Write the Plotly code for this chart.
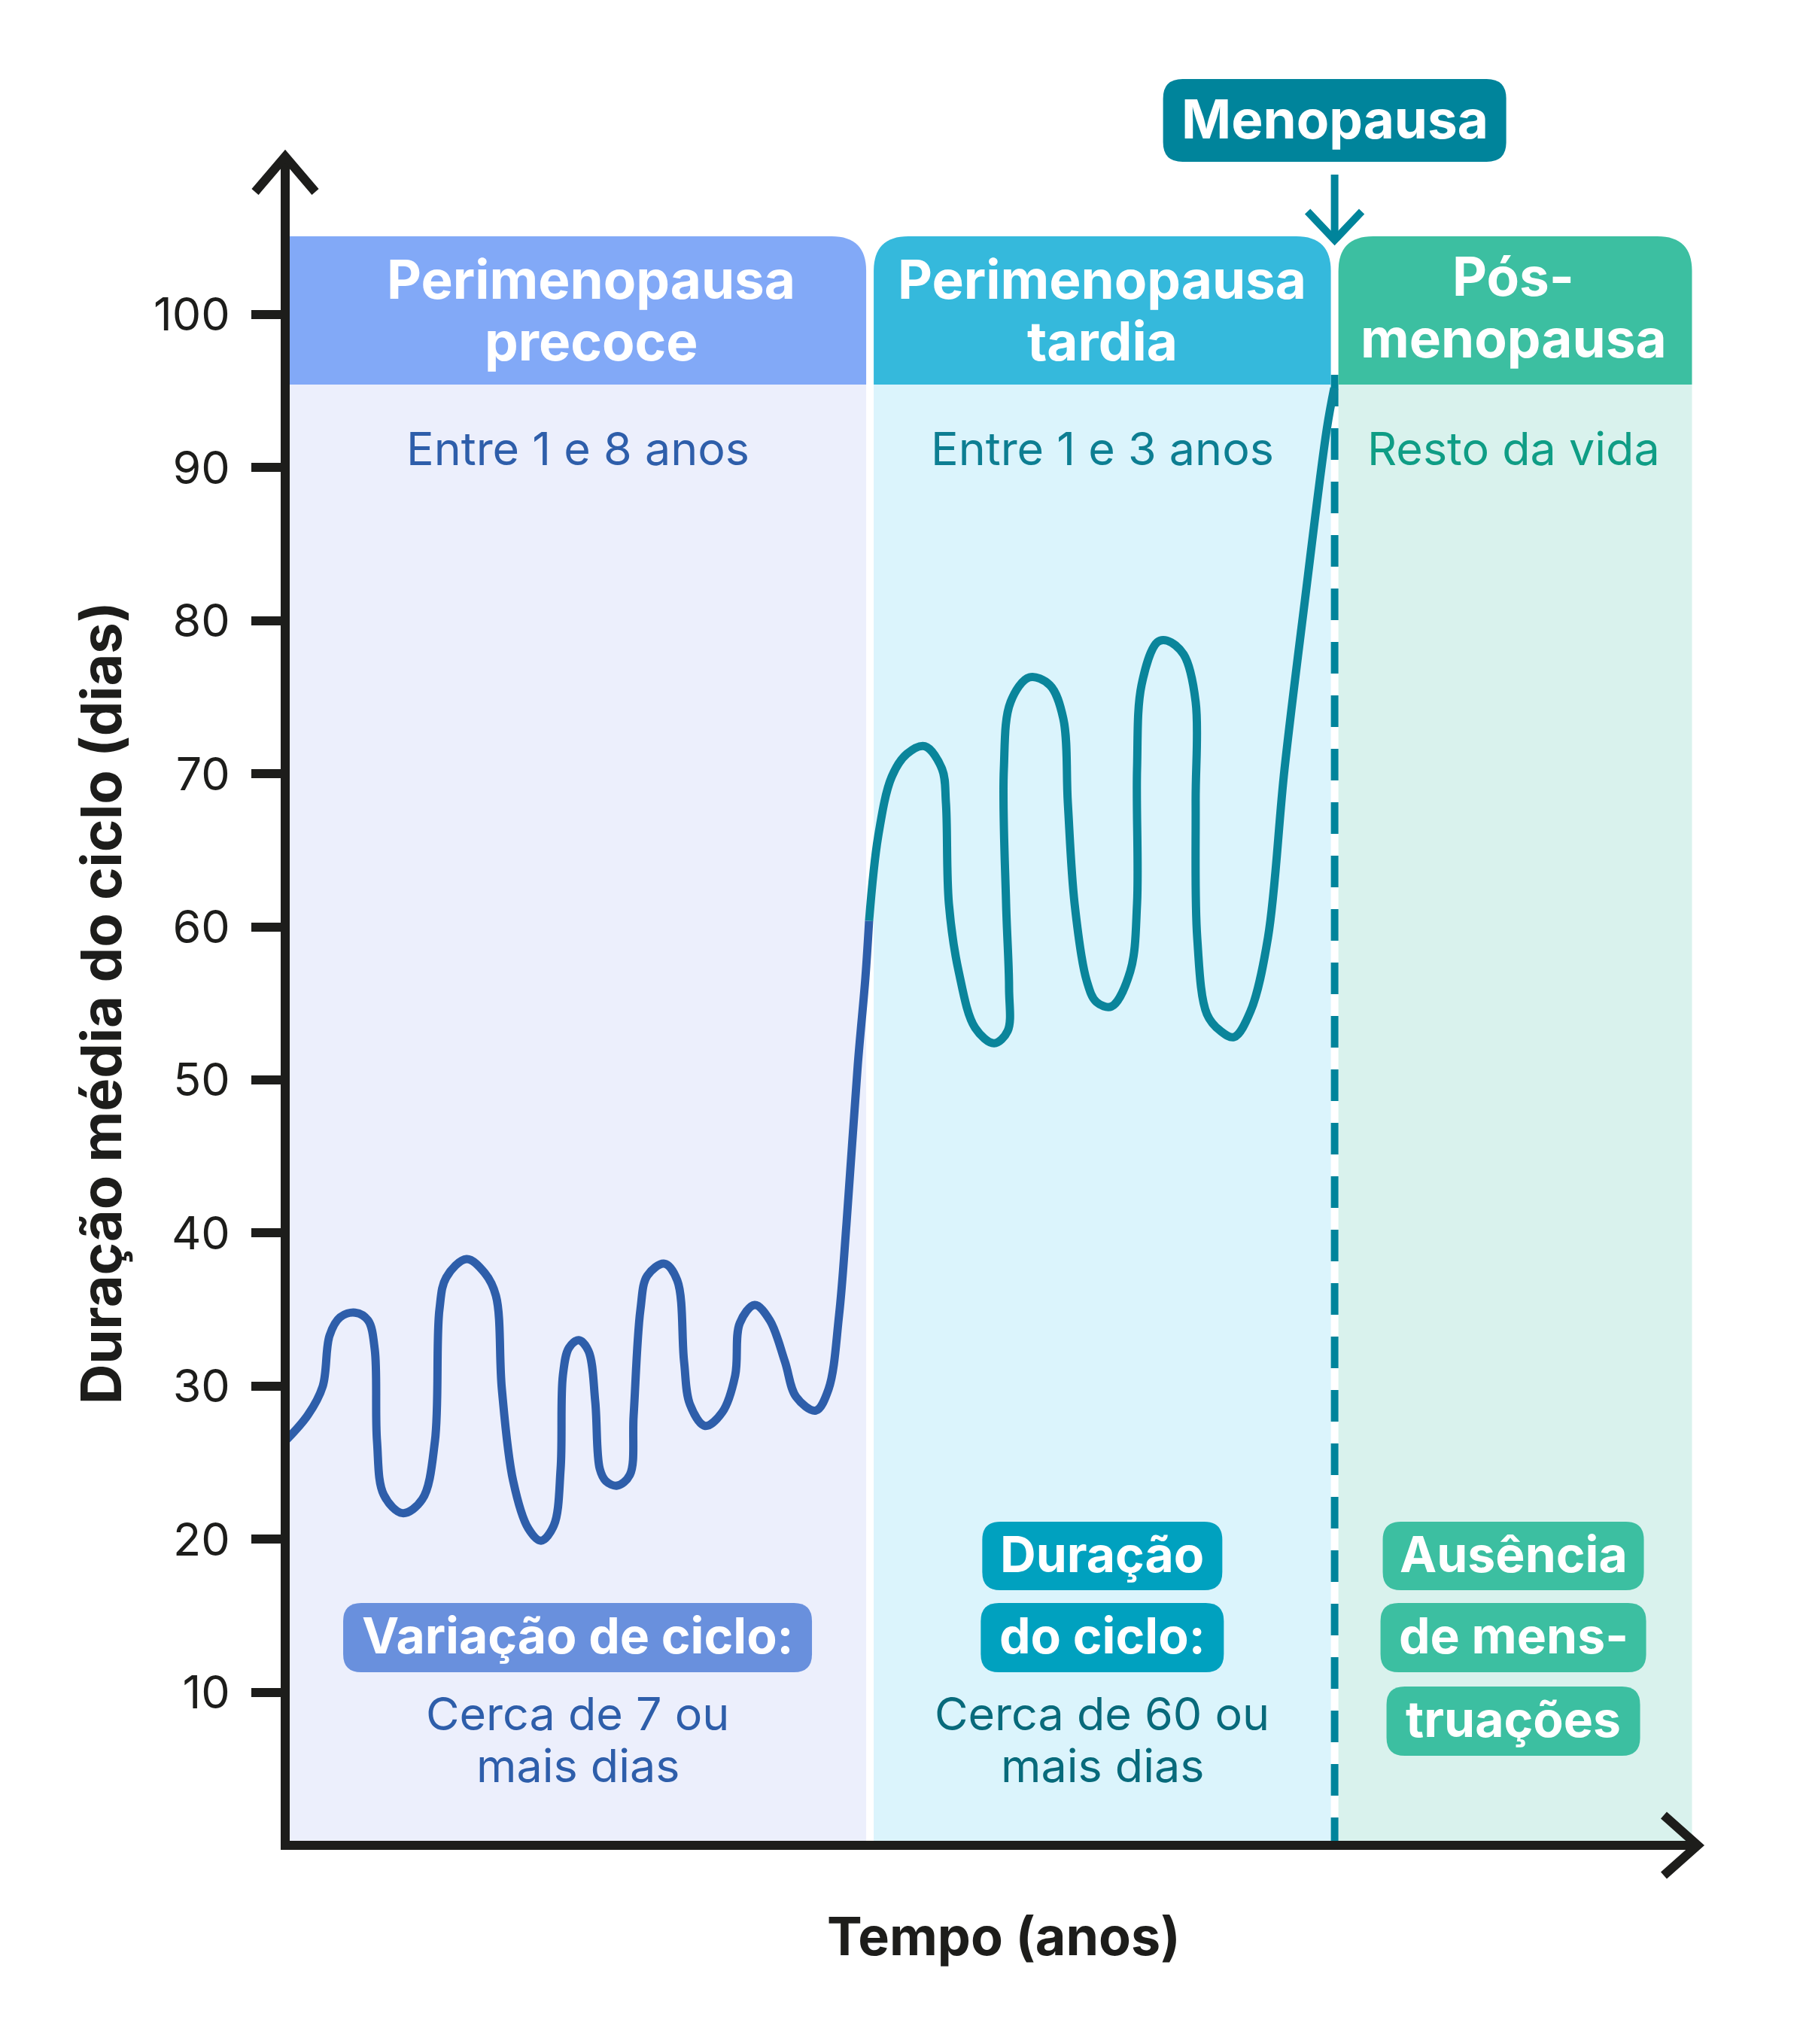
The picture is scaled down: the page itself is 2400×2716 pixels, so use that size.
import plotly.graph_objects as go

# ---- data -----------------------------------------------------------------
phase_names = ["Perimenopausa precoce", "Perimenopausa tardia", "Pós-menopausa"]
phase_bounds = [0.0, 41.4, 74.3, 99.6]      # tempo (unidades arbitrárias)
menopause_t = 74.3

head_lines = [["Perimenopausa", "precoce"], ["Perimenopausa", "tardia"], ["Pós-", "menopausa"]]
phase_durations = ["Entre 1 e 8 anos", "Entre 1 e 3 anos", "Resto da vida"]
box_lines = [["Variação de ciclo:"], ["Duração", "do ciclo:"], ["Ausência", "de mens-", "truações"]]
note_lines = [["Cerca de 7 ou", "mais dias"], ["Cerca de 60 ou", "mais dias"], []]

y_ticks = [10, 20, 30, 40, 50, 60, 70, 80, 90, 100]

# ciclo médio (dias) ao longo do tempo
early_t = [0.0, 1.60, 2.66, 3.14, 3.89, 4.95, 5.86, 6.34, 6.50, 6.98, 8.31, 9.70,
           10.60, 10.92, 11.40, 12.84, 14.12, 14.92, 15.34, 16.14, 17.21, 18.11,
           19.02, 19.50, 19.66, 20.09, 20.78, 21.47, 21.95, 22.27, 22.70, 23.50,
           24.40, 24.67, 25.15, 25.63, 26.85, 27.76, 28.24, 28.66, 29.73, 30.95,
           31.86, 32.18, 33.24, 34.31, 35.38, 36.17, 37.56, 38.47, 39.21, 39.74,
           40.54, 41.08, 41.34]
early_len = [26.4, 28.1, 30.0, 33.3, 34.5, 34.8, 34.3, 32.4, 26.4, 22.9, 21.7, 22.6,
             26.4, 35.0, 37.1, 38.3, 37.4, 35.9, 29.8, 23.8, 20.7, 19.9,
             20.9, 24.6, 30.7, 32.5, 33.0, 32.3, 29.0, 24.6, 23.8, 23.5,
             24.2, 28.1, 35.0, 37.2, 38.0, 36.9, 31.6, 28.8, 27.4, 28.3,
             30.7, 34.1, 35.3, 34.3, 31.6, 29.3, 28.4, 29.8, 34.6, 40.6,
             51.0, 56.7, 60.4]

late_t = [41.34, 41.98, 42.94, 44.01, 45.29, 46.51, 46.78, 46.99, 47.68, 48.85,
          50.19, 51.15, 51.25, 51.04, 50.88, 51.36, 52.69, 54.13, 55.09, 55.41,
          55.89, 56.74, 57.43, 58.50, 59.83, 60.31, 60.31, 60.63, 61.75, 62.44,
          63.61, 64.46, 64.46, 64.57, 65.26, 66.22, 67.18, 68.35, 69.58, 70.75,
          72.19, 73.74, 74.27]
late_len = [60.4, 65.9, 69.8, 71.3, 71.8, 70.3, 68.1, 61.5, 57.1, 53.4,
            52.4, 53.2, 56.0, 61.5, 70.3, 74.7, 76.3, 75.8, 73.6, 68.1,
            61.5, 56.5, 55.1, 54.8, 57.1, 61.5, 70.3, 75.8, 78.6, 78.7,
            77.8, 74.7, 68.1, 59.3, 54.3, 53.2, 52.8, 54.5, 59.3, 70.3,
            81.3, 92.5, 95.2]

# ---- geometry / style --------------------------------------------------------
W, H = 2400, 2716
X0_PX, Y0_PX = 379, 2452
PX_X, PX_Y = 18.77, 20.34

def dx(p): return p / PX_X
def dy(p): return p / PX_Y
def yv(py): return (Y0_PX - py) / PX_Y

FONT = "Inter"
INK = "#1d1d1b"
head_col = ["#82a9f7", "#35b9dc", "#3cbfa1"]
body_col = ["#eceffc", "#dbf4fc", "#d9f2ed"]
dur_col = ["#2e5eaa", "#0d7e92", "#0f9d85"]
box_col = ["#6990dd", "#00a1bf", "#3cbfa1"]
note_col = ["#2e5eaa", "#086a7b", "#086a7b"]
BLUE, TEAL, MENO = "#2e5eaa", "#0a859b", "#00849b"

HEAD_TOP, HEAD_BOT = yv(314), yv(511)
GAP = dx(5)
head_shift = [dx(18), 0, 0]


def rounded(x0, x1, y0, y1, r, corners=(True, True, True, True)):
    """corners: top-left, top-right, bottom-right, bottom-left"""
    rx, ry = dx(r), dy(r)
    tl, tr, br, bl = corners
    s = f"M{x0},{y0 + ry if bl else y0} "
    if tl:
        s += f"L{x0},{y1 - ry} Q{x0},{y1} {x0 + rx},{y1} "
    else:
        s += f"L{x0},{y1} "
    if tr:
        s += f"L{x1 - rx},{y1} Q{x1},{y1} {x1},{y1 - ry} "
    else:
        s += f"L{x1},{y1} "
    if br:
        s += f"L{x1},{y0 + ry} Q{x1},{y0} {x1 - rx},{y0} "
    else:
        s += f"L{x1},{y0} "
    if bl:
        s += f"L{x0 + rx},{y0} Q{x0},{y0} {x0},{y0 + ry} "
    else:
        s += f"L{x0},{y0} "
    return s + "Z"


shapes = []
annotations = []

def text(x, y, s, size, color, bold=False, angle=0):
    annotations.append(dict(x=x, y=y, text=s, showarrow=False, textangle=angle,
                            xanchor="center", yanchor="middle",
                            font=dict(family=FONT, size=size, color=color,
                                      weight=700 if bold else 400)))

# panels
for i in range(3):
    x0 = phase_bounds[i] + (GAP if i > 0 else 0)
    x1 = phase_bounds[i + 1] - (GAP if i < 2 else 0)
    shapes.append(dict(type="rect", x0=x0, x1=x1, y0=0, y1=HEAD_BOT, layer="below",
                       fillcolor=body_col[i], line_width=0))

# menopause dashed line (under the headers)
shapes.append(dict(type="line", x0=menopause_t, x1=menopause_t, y0=yv(498), y1=0,
                   layer="below", line=dict(color=MENO, width=10, dash="42px,29px")))

for i in range(3):
    x0 = phase_bounds[i] + (GAP if i > 0 else 0)
    x1 = phase_bounds[i + 1] - (GAP if i < 2 else 0)
    shapes.append(dict(type="path", layer="below", fillcolor=head_col[i], line_width=0,
                       path=rounded(x0, x1, HEAD_BOT, HEAD_TOP, 46,
                                    (i > 0, True, False, False))))
    xc = (phase_bounds[i] + phase_bounds[i + 1]) / 2
    off = 4 if i == 2 else 0
    text(xc + head_shift[i], yv(370.5 - off), head_lines[i][0], 71, "white", bold=True)
    text(xc + head_shift[i], yv(452.5 - off), head_lines[i][1], 71, "white", bold=True)
    text(xc, yv(595.5), phase_durations[i], 61, dur_col[i])

# label boxes at the bottom
box_rows = [(2022, 2113), (2130, 2222), (2241, 2333)]
box_w = [[623], [319, 323], [347, 353, 337]]
for i in range(3):
    xc = (phase_bounds[i] + phase_bounds[i + 1]) / 2
    n = len(box_lines[i])
    rows = box_rows[1:2] if n == 1 else box_rows[:n]
    for j, line in enumerate(box_lines[i]):
        t, b = rows[j]
        hw = dx(box_w[i][j]) / 2
        shapes.append(dict(type="path", layer="below", fillcolor=box_col[i], line_width=0,
                           path=rounded(xc - hw, xc + hw, yv(b), yv(t), 24)))
        text(xc, yv((t + b) / 2 - 3), line, 66, "white", bold=True)
    for j, line in enumerate(note_lines[i]):
        text(xc, yv(2276.5 + 69 * j), line, 61, note_col[i])

# menopause label + arrow
hw = dx(456) / 2
shapes.append(dict(type="path", layer="above", fillcolor=MENO, line_width=0,
                   path=rounded(menopause_t - hw, menopause_t + hw, yv(215), yv(105), 26)))
text(menopause_t, yv(158), "Menopausa", 71, "white", bold=True)
shapes.append(dict(type="line", x0=menopause_t, x1=menopause_t, y0=yv(232), y1=yv(318),
                   layer="above", line=dict(color=MENO, width=10)))
shapes.append(dict(type="path", layer="above", line=dict(color=MENO, width=10),
                   path=f"M{menopause_t - dx(36)},{yv(281)} L{menopause_t},{yv(319)} "
                        f"L{menopause_t + dx(36)},{yv(281)}"))

# axes with arrow heads
y_tip, x_tip = yv(208), 100.0
shapes += [
    dict(type="line", x0=0, x1=0, y0=-dy(6), y1=y_tip, layer="above",
         line=dict(color=INK, width=12)),
    dict(type="line", x0=0, x1=x_tip, y0=0, y1=0, layer="above",
         line=dict(color=INK, width=12)),
    dict(type="path", layer="above", line=dict(color=INK, width=12),
         path=f"M{-dx(40)},{y_tip - dy(47)} L0,{y_tip} L{dx(40)},{y_tip - dy(47)}"),
    dict(type="path", layer="above", line=dict(color=INK, width=12),
         path=f"M{x_tip - dx(45)},{dy(40)} L{x_tip},0 L{x_tip - dx(45)},{-dy(40)}"),
]

text(dx(134 - X0_PX), yv(1333), "Duração média do ciclo (dias)", 74, INK, bold=True, angle=-90)
text(dx(1334 - X0_PX), yv(2572), "Tempo (anos)", 70, INK, bold=True)

fig = go.Figure()
fig.add_trace(go.Scatter(x=early_t, y=early_len, mode="lines",
                         line=dict(color=BLUE, width=11, shape="spline", smoothing=1.0),
                         hoverinfo="skip"))
fig.add_trace(go.Scatter(x=late_t, y=late_len, mode="lines",
                         line=dict(color=TEAL, width=11, shape="spline", smoothing=1.0),
                         hoverinfo="skip"))

fig.update_layout(
    width=W, height=H, margin=dict(l=0, r=0, t=0, b=0),
    paper_bgcolor="white", plot_bgcolor="white", showlegend=False,
    shapes=shapes, annotations=annotations,
    xaxis=dict(range=[dx(-X0_PX), dx(W - X0_PX)], visible=False, fixedrange=True),
    yaxis=dict(range=[yv(H), yv(0)], anchor="free", position=X0_PX / W, side="left",
               showgrid=False, zeroline=False, showline=False,
               tickmode="array", tickvals=y_ticks, ticktext=[str(v) for v in y_ticks],
               ticks="outside", ticklen=45, tickwidth=12, tickcolor=INK,
               ticklabelstandoff=16,
               tickfont=dict(family=FONT, size=61, color=INK), fixedrange=True),
)

fig.write_html("out.html", config={"displayModeBar": False},
               post_script="document.body.style.margin='0';")
